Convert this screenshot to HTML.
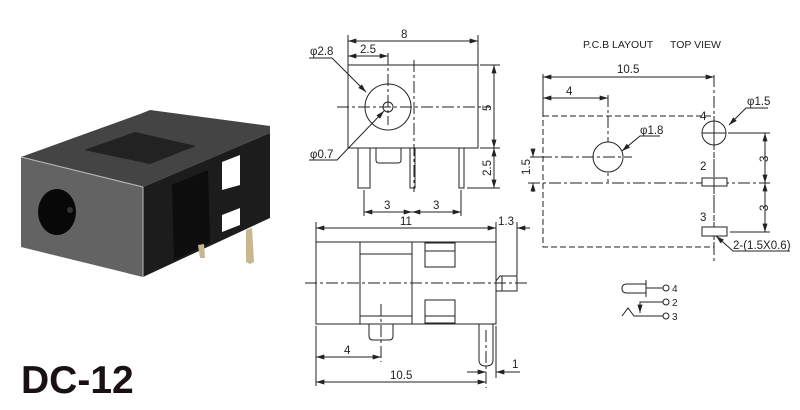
<!DOCTYPE html>
<html><head><meta charset="utf-8"><style>
html,body{margin:0;padding:0;background:#fff;}
svg{display:block;}
text{font-family:"Liberation Sans",Arial,sans-serif;fill:#222;}
</style></head><body>
<svg width="800" height="410" viewBox="0 0 800 410" xmlns="http://www.w3.org/2000/svg">
<defs>
<marker id="a" viewBox="0 0 10 6" refX="10" refY="3" markerWidth="9" markerHeight="5" orient="auto-start-reverse" markerUnits="userSpaceOnUse"><path d="M0,0L10,3L0,6z" fill="#222"/></marker>
</defs>
<!-- photo -->
<g>
<polygon points="21,157 143,187 270,133 270,126 150,110 140,114" fill="#444444"/>
<polygon points="84,150 150,164 196,146 135,132" fill="#222"/>
<polygon points="143,187 270,133 270,218 143,277" fill="#1c1c1c"/>
<polygon points="172,185 208,170 210,243 174,260" fill="#0d0d0d"/>
<polygon points="222,162 240,155 240,185 222,190" fill="#fff"/>
<polygon points="222,215 240,208 240,225 222,232" fill="#fff"/>
<polygon points="21,157 143,187 143,277 21,247" fill="#636363"/>
<line x1="21" y1="157" x2="143" y2="187" stroke="#bbb" stroke-width="1"/>
<line x1="143" y1="187" x2="143" y2="277" stroke="#bbb" stroke-width="1"/>
<ellipse cx="57" cy="212" rx="19" ry="23" fill="#080808"/>
<circle cx="70" cy="210" r="3" fill="#333"/>
<polygon points="246,230 252,228 254,262 250,264 246,262" fill="#c8b890"/>
<polygon points="198,245 204,244 205,258 200,258" fill="#c8b890"/>
</g>
<text x="21" y="393" font-size="39" font-weight="bold" style="fill:#1a1212">DC-12</text>

<g stroke="#222" stroke-width="1" fill="none">
<!-- TOP VIEW -->
<rect x="348" y="65" width="130" height="83"/>
<circle cx="388" cy="107" r="23"/>
<circle cx="388" cy="107" r="5"/>
<rect x="358" y="148" width="12" height="40"/>
<rect x="410" y="148" width="5" height="40"/>
<rect x="459" y="148" width="5" height="40"/>
<path d="M376,148 V160 Q376,163 379,163 H398 Q401,163 401,160 V148"/>
<line x1="337" y1="107" x2="490" y2="107" stroke-dasharray="12,3,3,3"/>
<line x1="414" y1="60" x2="414" y2="192" stroke-dasharray="12,3,3,3"/>
<line x1="388" y1="53" x2="388" y2="125" stroke-dasharray="12,3,3,3"/>
<line x1="348" y1="35" x2="348" y2="65"/>
<line x1="478" y1="35" x2="478" y2="65"/>
<line x1="348" y1="41" x2="478" y2="41" marker-start="url(#a)" marker-end="url(#a)"/>
<line x1="348" y1="56" x2="388" y2="56" marker-start="url(#a)" marker-end="url(#a)"/>
<line x1="480" y1="65" x2="500" y2="65"/>
<line x1="480" y1="148" x2="500" y2="148"/>
<line x1="467" y1="188" x2="500" y2="188"/>
<line x1="494" y1="65" x2="494" y2="148" marker-start="url(#a)" marker-end="url(#a)"/>
<line x1="494" y1="148" x2="494" y2="188" marker-start="url(#a)" marker-end="url(#a)"/>
<line x1="364" y1="190" x2="364" y2="216"/>
<line x1="461" y1="190" x2="461" y2="216"/>
<line x1="364" y1="212" x2="412" y2="212" marker-start="url(#a)" marker-end="url(#a)"/>
<line x1="412" y1="212" x2="461" y2="212" marker-start="url(#a)" marker-end="url(#a)"/>
<polyline points="309,58 332,58 366,92" marker-end="url(#a)"/>
<polyline points="309,160 337,160 384,111" marker-end="url(#a)"/>

<!-- SIDE VIEW -->
<rect x="316" y="242" width="180" height="82"/>
<line x1="360" y1="242" x2="360" y2="324"/>
<line x1="412" y1="242" x2="412" y2="324"/>
<line x1="360" y1="254" x2="412" y2="254"/>
<line x1="360" y1="316" x2="412" y2="316"/>
<rect x="425" y="243" width="30" height="24"/>
<line x1="425" y1="251" x2="455" y2="251"/>
<rect x="425" y="300" width="30" height="23"/>
<line x1="425" y1="316" x2="455" y2="316"/>
<path d="M496,281 L500,276 H516 Q517,276 517,278 V291 H496"/>
<line x1="502" y1="276" x2="502" y2="291"/>
<line x1="496" y1="324" x2="496" y2="291"/>
<path d="M479,324 V360 Q479,366 486,366 Q493,366 493,360 V324"/>
<path d="M369,324 V336 Q369,340 373,340 H389 Q393,340 393,336 V324"/>
<line x1="305" y1="283" x2="527" y2="283" stroke-dasharray="12,3,3,3"/>
<line x1="381" y1="304" x2="381" y2="362" stroke-dasharray="12,3,3,3"/>
<line x1="486" y1="330" x2="486" y2="388" stroke-dasharray="12,3,3,3"/>
<line x1="316" y1="222" x2="316" y2="242"/>
<line x1="496" y1="222" x2="496" y2="242"/>
<line x1="517" y1="222" x2="517" y2="276"/>
<line x1="316" y1="228" x2="496" y2="228" marker-start="url(#a)" marker-end="url(#a)"/>
<line x1="530" y1="228" x2="517" y2="228" marker-end="url(#a)"/>
<line x1="316" y1="326" x2="316" y2="386"/>
<line x1="316" y1="357" x2="381" y2="357" marker-start="url(#a)" marker-end="url(#a)"/>
<line x1="316" y1="382" x2="486" y2="382" marker-start="url(#a)" marker-end="url(#a)"/>
<line x1="496" y1="326" x2="496" y2="378"/>
<line x1="467" y1="372" x2="486" y2="372" marker-end="url(#a)"/>
<line x1="520" y1="372" x2="496" y2="372" marker-end="url(#a)"/>

<!-- PCB LAYOUT -->
<rect x="543" y="116" width="171" height="131" stroke-dasharray="6,3"/>
<line x1="714" y1="75" x2="714" y2="262" stroke-dasharray="12,3,3,3"/>
<line x1="543" y1="74" x2="543" y2="116"/>
<line x1="543" y1="77" x2="714" y2="77" marker-start="url(#a)" marker-end="url(#a)"/>
<line x1="543" y1="98" x2="608" y2="98" marker-start="url(#a)" marker-end="url(#a)"/>
<line x1="608" y1="95" x2="608" y2="182" stroke-dasharray="12,3,3,3"/>
<circle cx="608" cy="157" r="15" fill="#fff"/>
<line x1="540" y1="157" x2="632" y2="157" stroke-dasharray="12,3,3,3"/>
<line x1="528" y1="183" x2="770" y2="183" stroke-dasharray="12,3,3,3"/>
<line x1="530" y1="157" x2="545" y2="157"/>
<line x1="533" y1="150" x2="533" y2="157" marker-end="url(#a)"/>
<line x1="533" y1="192" x2="533" y2="183" marker-end="url(#a)"/>
<circle cx="714" cy="133" r="12" fill="#fff"/>
<line x1="702" y1="133" x2="726" y2="133"/>
<line x1="714" y1="121" x2="714" y2="145"/>
<rect x="702" y="178" width="25" height="8" fill="#fff"/>
<rect x="702" y="227" width="25" height="9" fill="#fff"/>
<line x1="714" y1="178" x2="714" y2="186"/>
<line x1="728" y1="133" x2="770" y2="133"/>
<line x1="730" y1="232" x2="770" y2="232"/>
<line x1="765" y1="133" x2="765" y2="183" marker-start="url(#a)" marker-end="url(#a)"/>
<line x1="765" y1="183" x2="765" y2="232" marker-start="url(#a)" marker-end="url(#a)"/>
<polyline points="768,108 746,108 729,125" marker-end="url(#a)"/>
<polyline points="660,136 640,136 622,151" marker-end="url(#a)"/>
<polyline points="790,251 733,251 716,236" marker-end="url(#a)"/>

<!-- schematic -->
<path d="M646,284 H627 Q622,284 622,288.5 Q622,293 627,293 H646"/>
<line x1="646" y1="280" x2="646" y2="297"/>
<line x1="646" y1="288" x2="663" y2="288"/>
<circle cx="666" cy="288" r="3"/>
<polyline points="663,302 640,302 640,313" marker-end="url(#a)"/>
<circle cx="666" cy="302" r="3"/>
<polyline points="622,316 628,308 634,316 663,316"/>
<circle cx="666" cy="316" r="3"/>
</g>

<g font-size="11.5">
<text x="401" y="38">8</text>
<text x="360" y="53">2.5</text>
<text x="310" y="55">φ2.8</text>
<text x="310" y="158">φ0.7</text>
<text x="384" y="209">3</text>
<text x="433" y="209">3</text>
<text transform="translate(491,111) rotate(-90)">5</text>
<text transform="translate(491,176) rotate(-90)">2.5</text>
<text x="400" y="225">11</text>
<text x="498" y="225">1.3</text>
<text x="344" y="354">4</text>
<text x="390" y="379">10.5</text>
<text x="512" y="368">1</text>
<text x="583" y="48" font-size="10.5">P.C.B LAYOUT</text>
<text x="670" y="48" font-size="10.5">TOP VIEW</text>
<text x="617" y="73">10.5</text>
<text x="566" y="95">4</text>
<text x="640" y="134">φ1.8</text>
<text x="747" y="105">φ1.5</text>
<text x="700" y="120">4</text>
<text x="700" y="170">2</text>
<text x="700" y="221">3</text>
<text x="733" y="249">2-(1.5X0.6)</text>
<text transform="translate(530,175) rotate(-90)">1.5</text>
<text transform="translate(768,162) rotate(-90)">3</text>
<text transform="translate(768,211) rotate(-90)">3</text>
<text x="672" y="292" font-size="10">4</text>
<text x="672" y="306" font-size="10">2</text>
<text x="672" y="320" font-size="10">3</text>
</g>
</svg>
</body></html>
